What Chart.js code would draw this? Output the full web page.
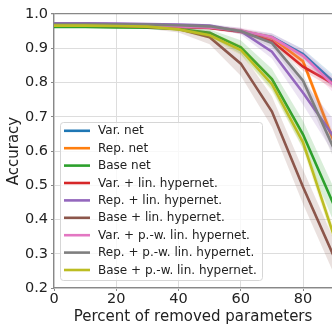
<!DOCTYPE html>
<html>
<head>
<meta charset="utf-8">
<script src="https://cdn.jsdelivr.net/npm/chart.js@4/dist/chart.umd.min.js"></script>
<style>
  html, body { margin: 0; padding: 0; background: #fff; }
  #wrap { width: 332px; height: 330px; }
</style>
</head>
<body>
<div id="wrap"><canvas id="chart" width="332" height="330"></canvas></div>
<script>
// percent of removed parameters
const removed = [0, 10, 20, 30, 40, 50, 60, 70, 80, 90];

const seriesLabels = [
  'Var. net', 'Rep. net', 'Base net',
  'Var. + lin. hypernet.', 'Rep. + lin. hypernet.', 'Base + lin. hypernet.',
  'Var. + p.-w. lin. hypernet.', 'Rep. + p.-w. lin. hypernet.', 'Base + p.-w. lin. hypernet.'
];
const seriesColors = ['#1f77b4', '#ff7f0e', '#2ca02c', '#d62728', '#9467bd', '#8c564b', '#e377c2', '#7f7f7f', '#bcbd22'];

// mean accuracy
const varNet      = [0.968, 0.968, 0.967, 0.966, 0.963, 0.960, 0.950, 0.933, 0.883, 0.800];
const repNet      = [0.969, 0.969, 0.968, 0.967, 0.964, 0.961, 0.951, 0.931, 0.862, 0.625];
const baseNet     = [0.962, 0.962, 0.961, 0.960, 0.956, 0.945, 0.903, 0.810, 0.648, 0.440];
const varLin      = [0.968, 0.968, 0.967, 0.966, 0.963, 0.959, 0.948, 0.921, 0.846, 0.795];
const repLin      = [0.973, 0.973, 0.972, 0.971, 0.969, 0.966, 0.950, 0.890, 0.770, 0.640];
const baseLin     = [0.966, 0.966, 0.965, 0.962, 0.956, 0.932, 0.855, 0.715, 0.495, 0.290];
const varPw       = [0.969, 0.969, 0.968, 0.967, 0.964, 0.961, 0.952, 0.932, 0.878, 0.790];
const repPw       = [0.971, 0.971, 0.970, 0.969, 0.967, 0.964, 0.950, 0.915, 0.805, 0.605];
const basePw      = [0.966, 0.966, 0.965, 0.963, 0.955, 0.938, 0.895, 0.795, 0.625, 0.350];

// half width of the shaded bands
const varNetSd  = [0.003, 0.003, 0.003, 0.003, 0.004, 0.005, 0.006, 0.010, 0.015, 0.020];
const repNetSd  = [0.003, 0.003, 0.003, 0.003, 0.004, 0.005, 0.006, 0.008, 0.012, 0.020];
const baseNetSd = [0.003, 0.003, 0.003, 0.003, 0.005, 0.010, 0.020, 0.030, 0.040, 0.050];
const varLinSd  = [0.003, 0.003, 0.003, 0.003, 0.004, 0.005, 0.006, 0.008, 0.012, 0.015];
const repLinSd  = [0.003, 0.003, 0.003, 0.003, 0.004, 0.005, 0.010, 0.020, 0.035, 0.050];
const baseLinSd = [0.003, 0.003, 0.003, 0.005, 0.010, 0.020, 0.035, 0.045, 0.050, 0.050];
const varPwSd   = [0.003, 0.003, 0.003, 0.003, 0.004, 0.005, 0.008, 0.012, 0.018, 0.022];
const repPwSd   = [0.003, 0.003, 0.003, 0.003, 0.004, 0.005, 0.008, 0.012, 0.020, 0.030];
const basePwSd  = [0.003, 0.003, 0.003, 0.003, 0.005, 0.010, 0.015, 0.020, 0.020, 0.020];

const seriesValues = [varNet, repNet, baseNet, varLin, repLin, baseLin, varPw, repPw, basePw];
const seriesSpread = [varNetSd, repNetSd, baseNetSd, varLinSd, repLinSd, baseLinSd, varPwSd, repPwSd, basePwSd];

const yTicks = [0.2, 0.3, 0.4, 0.5, 0.6, 0.7, 0.8, 0.9, 1.0];
const xTicks = [0, 20, 40, 60, 80];

function rgba(hex, a) {
  const n = parseInt(hex.slice(1), 16);
  return `rgba(${(n >> 16) & 255}, ${(n >> 8) & 255}, ${n & 255}, ${a})`;
}

function points(vals) {
  return vals.map((v, j) => ({ x: removed[j], y: v }));
}

// build datasets: band (upper, lower) then line, drawn in matplotlib order
const datasets = [];
let order = 100;
seriesValues.forEach((vals, i) => {
  const sd = seriesSpread[i];
  const color = seriesColors[i];
  datasets.push({
    label: '_upper' + i,
    data: points(vals.map((v, j) => v + sd[j])),
    borderWidth: 0, pointRadius: 0, fill: false, order: order--
  });
  datasets.push({
    label: '_lower' + i,
    data: points(vals.map((v, j) => v - sd[j])),
    borderWidth: 0, pointRadius: 0, fill: '-1',
    backgroundColor: rgba(color, 0.18), order: order--
  });
  datasets.push({
    label: seriesLabels[i],
    data: points(vals),
    borderColor: color, borderWidth: 2.6, pointRadius: 0,
    fill: false, tension: 0, order: order--
  });
});

// matplotlib-like legend box inside the axes
const legendBox = {
  id: 'legendBox',
  afterDraw(chart) {
    const ctx = chart.ctx;
    ctx.save();
    ctx.beginPath();
    ctx.roundRect(60.5, 122.5, 202, 158, 3);
    ctx.fillStyle = 'rgba(255, 255, 255, 0.8)';
    ctx.fill();
    ctx.strokeStyle = '#d6d6d6';
    ctx.lineWidth = 1;
    ctx.stroke();
    ctx.font = '12px "DejaVu Sans"';
    ctx.textBaseline = 'middle';
    seriesLabels.forEach((label, i) => {
      const y = 130.8 + i * 17.4;
      ctx.beginPath();
      ctx.moveTo(64, y);
      ctx.lineTo(90, y);
      ctx.strokeStyle = seriesColors[i];
      ctx.lineWidth = 2.6;
      ctx.stroke();
      ctx.fillStyle = '#222';
      ctx.fillText(label, 98, y + 0.5);
    });
    ctx.restore();
  }
};

const tickFont = { family: 'DejaVu Sans', size: 14.5 };

new Chart(document.getElementById('chart'), {
  type: 'line',
  data: { datasets },
  plugins: [legendBox],
  options: {
    responsive: false,
    animation: false,
    events: [],
    layout: { padding: { top: 14, right: 0, left: 0, bottom: 0 } },
    plugins: { legend: { display: false }, tooltip: { enabled: false } },
    scales: {
      x: {
        type: 'linear',
        min: 0,
        max: 89.3,
        afterBuildTicks: (scale) => { scale.ticks = xTicks.map(v => ({ value: v })); },
        afterFit: (scale) => { scale.height = 42; },
        ticks: { font: tickFont, color: '#222', padding: 0, maxRotation: 0 },
        grid: { color: '#dddddd', lineWidth: 1, tickLength: 3, tickColor: '#888' },
        border: { color: '#888', width: 1.2 },
        title: {
          display: true, text: 'Percent of removed parameters',
          font: { family: 'DejaVu Sans', size: 15 }, color: '#222', padding: { top: 0, bottom: 4 }
        }
      },
      y: {
        min: 0.2,
        max: 1.0,
        afterBuildTicks: (scale) => { scale.ticks = yTicks.map(v => ({ value: v })); },
        afterFit: (scale) => { scale.width = 54; },
        ticks: { font: tickFont, color: '#222', padding: 3, callback: (v) => Number(v).toFixed(1) },
        grid: {
          color: (c) => (c.tick && Math.abs(c.tick.value - 1) < 1e-6) ? '#888' : '#dddddd',
          lineWidth: (c) => (c.tick && Math.abs(c.tick.value - 1) < 1e-6) ? 1.2 : 1,
          tickLength: 3, tickColor: '#888'
        },
        border: { color: '#888', width: 1.2 },
        title: {
          display: true, text: 'Accuracy',
          font: { family: 'DejaVu Sans', size: 15 }, color: '#222', padding: { top: 5, bottom: 0 }
        }
      }
    }
  }
});
</script>
</body>
</html>
